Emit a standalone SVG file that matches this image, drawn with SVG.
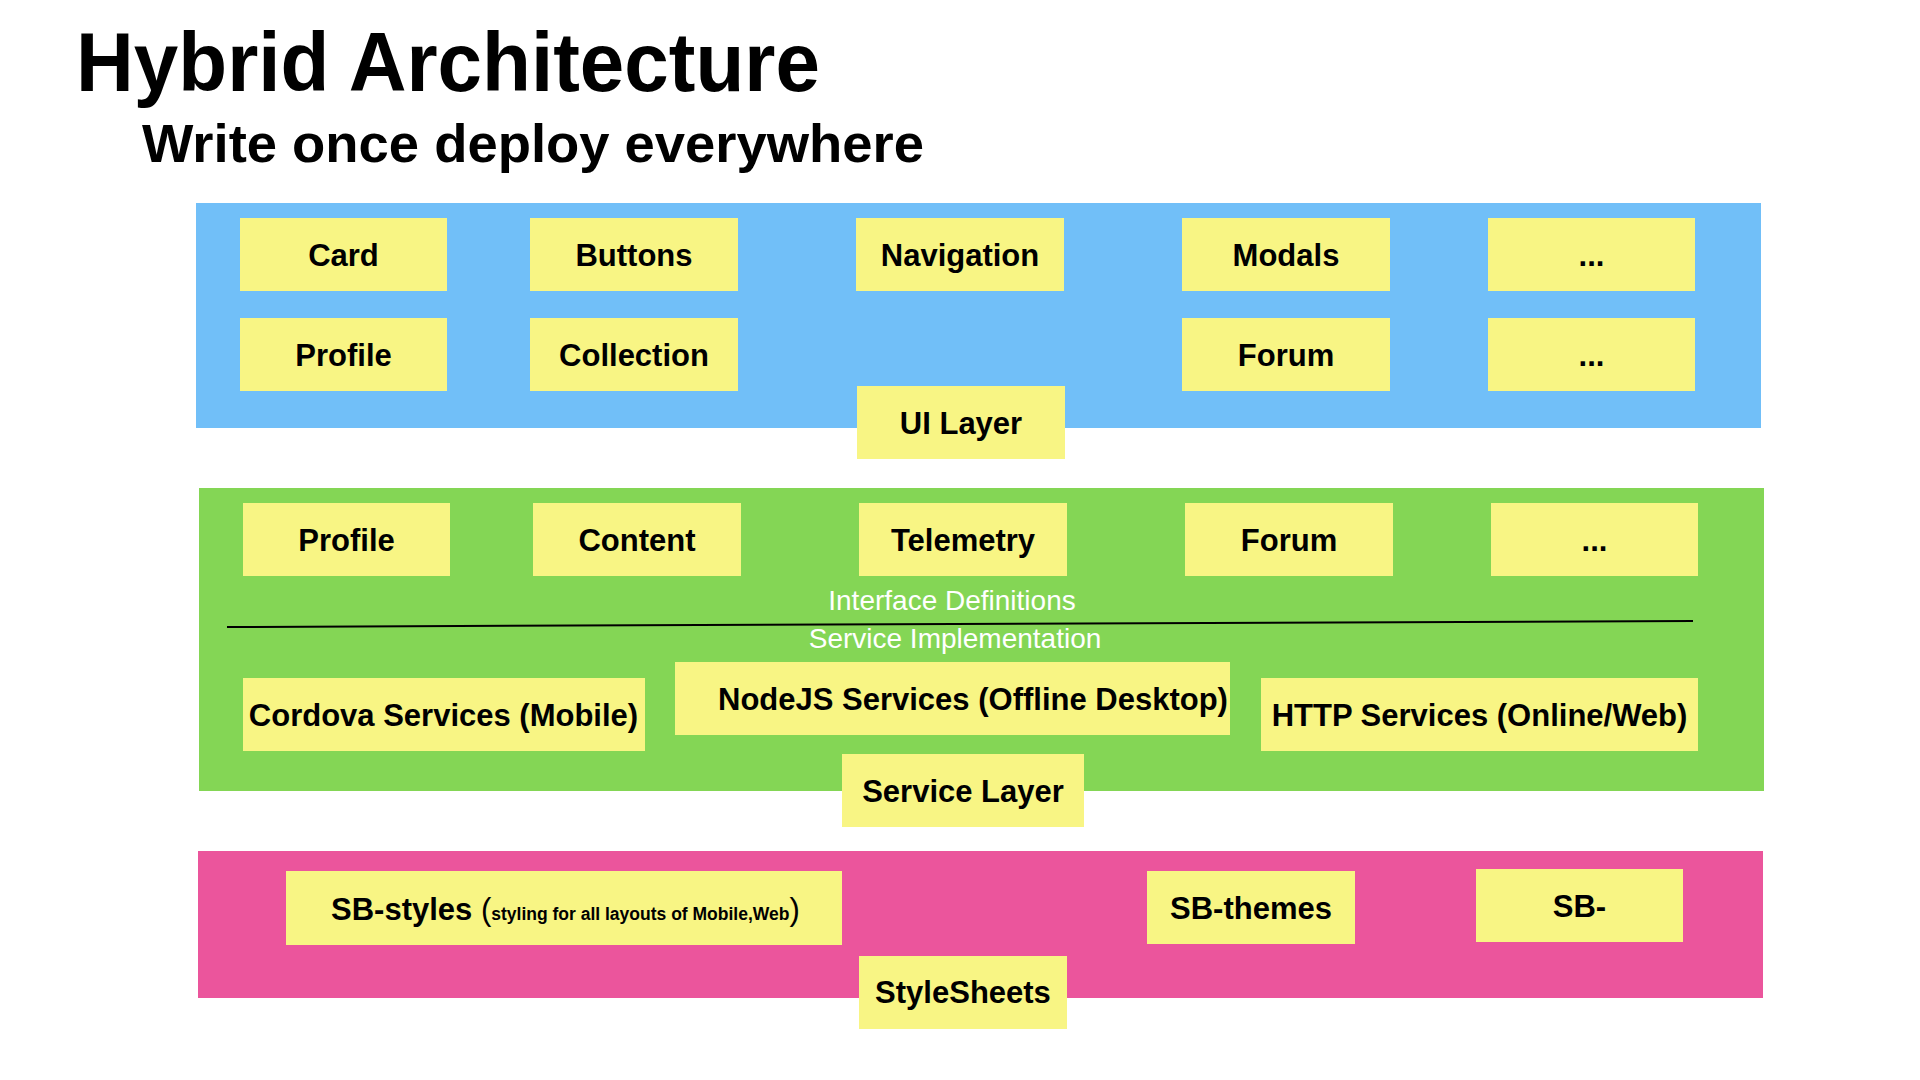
<svg xmlns="http://www.w3.org/2000/svg" width="1920" height="1080" viewBox="0 0 1920 1080">
<style>
.bg{fill:#ffffff}
.blue{fill:#71BFF8}
.green{fill:#84D655}
.pink{fill:#EB559C}
.box{fill:#F8F584}
.lbl{font-family:"Liberation Sans",Arial,sans-serif;font-weight:bold;font-size:31px;fill:#000;text-anchor:middle}
.title{font-family:"Liberation Sans",Arial,sans-serif;font-weight:bold;fill:#000}
.sub{font-family:"Liberation Sans",Arial,sans-serif;font-size:28px;fill:#fff;text-anchor:middle}
.div{stroke:#000;stroke-width:2;fill:none}
</style>
<rect class="bg" x="0" y="0" width="1920" height="1080"/>
<text class="title" x="76" y="91" font-size="84" textLength="744" lengthAdjust="spacingAndGlyphs">Hybrid Architecture</text>
<text class="title" x="142" y="162" font-size="54" textLength="782" lengthAdjust="spacingAndGlyphs">Write once deploy everywhere</text>

<g id="ui-layer-area"><rect class="blue" x="196" y="203" width="1565" height="225"/></g>
<g id="service-layer-area"><rect class="green" x="199" y="488" width="1565" height="303"/></g>
<g id="stylesheets-area"><rect class="pink" x="198" y="851" width="1565" height="147"/></g>

<g id="ui-card"><rect class="box" x="240" y="218" width="207" height="73"/><text class="lbl" x="343.5" y="266">Card</text></g>
<g id="ui-buttons"><rect class="box" x="530" y="218" width="208" height="73"/><text class="lbl" x="634" y="266">Buttons</text></g>
<g id="ui-navigation"><rect class="box" x="856" y="218" width="208" height="73"/><text class="lbl" x="960" y="266">Navigation</text></g>
<g id="ui-modals"><rect class="box" x="1182" y="218" width="208" height="73"/><text class="lbl" x="1286" y="266">Modals</text></g>
<g id="ui-more1"><rect class="box" x="1488" y="218" width="207" height="73"/><text class="lbl" x="1591.5" y="266">...</text></g>
<g id="ui-profile"><rect class="box" x="240" y="318" width="207" height="73"/><text class="lbl" x="343.5" y="366">Profile</text></g>
<g id="ui-collection"><rect class="box" x="530" y="318" width="208" height="73"/><text class="lbl" x="634" y="366">Collection</text></g>
<g id="ui-forum"><rect class="box" x="1182" y="318" width="208" height="73"/><text class="lbl" x="1286" y="366">Forum</text></g>
<g id="ui-more2"><rect class="box" x="1488" y="318" width="207" height="73"/><text class="lbl" x="1591.5" y="366">...</text></g>
<g id="ui-layer-label"><rect class="box" x="857" y="386" width="208" height="73"/><text class="lbl" x="961" y="434">UI Layer</text></g>

<g id="svc-profile"><rect class="box" x="243" y="503" width="207" height="73"/><text class="lbl" x="346.5" y="551">Profile</text></g>
<g id="svc-content"><rect class="box" x="533" y="503" width="208" height="73"/><text class="lbl" x="637" y="551">Content</text></g>
<g id="svc-telemetry"><rect class="box" x="859" y="503" width="208" height="73"/><text class="lbl" x="963" y="551">Telemetry</text></g>
<g id="svc-forum"><rect class="box" x="1185" y="503" width="208" height="73"/><text class="lbl" x="1289" y="551">Forum</text></g>
<g id="svc-more"><rect class="box" x="1491" y="503" width="207" height="73"/><text class="lbl" x="1594.5" y="551">...</text></g>
<text class="sub" x="952" y="610">Interface Definitions</text>
<text class="sub" x="955" y="648">Service Implementation</text>
<g id="svc-cordova"><rect class="box" x="243" y="678" width="402" height="73"/><text class="lbl" x="443.5" y="726">Cordova Services (Mobile)</text></g>
<g id="svc-nodejs"><rect class="box" x="675" y="662" width="555" height="73"/><text class="lbl" x="718" y="710" style="text-anchor:start">NodeJS Services (Offline Desktop)</text></g>
<g id="svc-http"><rect class="box" x="1261" y="678" width="437" height="73"/><text class="lbl" x="1479.5" y="726">HTTP Services (Online/Web)</text></g>
<g id="svc-layer-label"><rect class="box" x="842" y="754" width="242" height="73"/><text class="lbl" x="963" y="802">Service Layer</text></g>

<g id="ss-sb-styles"><rect class="box" x="286" y="871" width="556" height="74"/><text class="lbl" x="331" y="920" style="text-anchor:start">SB-styles <tspan font-weight="normal">(</tspan><tspan font-size="17.5">styling for all layouts of Mobile,Web</tspan><tspan font-weight="normal">)</tspan></text></g>
<g id="ss-sb-themes"><rect class="box" x="1147" y="871" width="208" height="73"/><text class="lbl" x="1251" y="919">SB-themes</text></g>
<g id="ss-sb"><rect class="box" x="1476" y="869" width="207" height="73"/><text class="lbl" x="1579.5" y="917">SB-</text></g>
<g id="ss-layer-label"><rect class="box" x="859" y="956" width="208" height="73"/><text class="lbl" x="963" y="1003">StyleSheets</text></g>

<g id="connectors"><line class="div" x1="227" y1="627" x2="1693" y2="621"/></g>
</svg>
